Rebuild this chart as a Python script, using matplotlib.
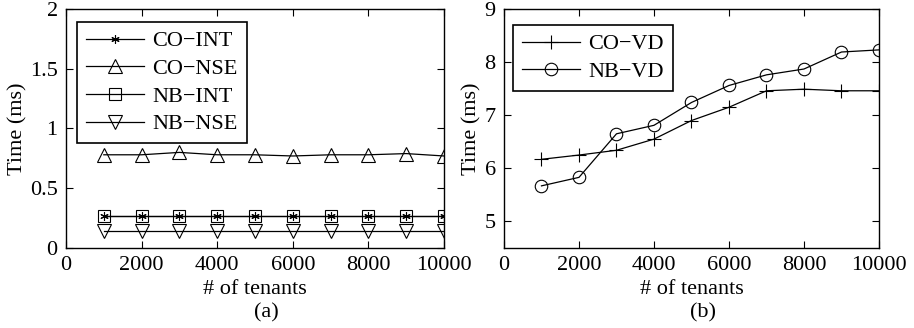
import matplotlib
matplotlib.use("Agg")
import matplotlib.pyplot as plt

plt.rcParams['font.family'] = ['Liberation Serif', 'DejaVu Serif']
plt.rcParams['font.size'] = 16

# data
tenants = [1000, 2000, 3000, 4000, 5000, 6000, 7000, 8000, 9000, 10000]

co_int = [0.27, 0.27, 0.27, 0.27, 0.27, 0.27, 0.27, 0.27, 0.27, 0.27]
co_nse = [0.78, 0.78, 0.80, 0.78, 0.78, 0.77, 0.78, 0.78, 0.79, 0.77]
nb_int = [0.27, 0.27, 0.27, 0.27, 0.27, 0.27, 0.27, 0.27, 0.27, 0.27]
nb_nse = [0.145, 0.145, 0.145, 0.145, 0.145, 0.145, 0.145, 0.145, 0.145, 0.145]

co_vd = [6.17, 6.25, 6.34, 6.55, 6.90, 7.15, 7.46, 7.49, 7.46, 7.46]
nb_vd = [5.67, 5.83, 6.65, 6.81, 7.24, 7.56, 7.76, 7.87, 8.19, 8.23]

x_ticks = [0, 2000, 4000, 6000, 8000, 10000]

fig = plt.figure(figsize=(9.14, 3.28), dpi=100)
ax1 = fig.add_axes([0.0722, 0.2439, 0.4136, 0.7287])
ax2 = fig.add_axes([0.5514, 0.2439, 0.4103, 0.7287])

lw = 0.9
common = dict(color='black', linewidth=lw, markerfacecolor='none',
              markeredgecolor='black', markeredgewidth=0.8)

# panel (a)
ax1.plot(tenants, co_int, marker=(6, 2, 0), markersize=6, label='CO\u2212INT', **common)
ax1.plot(tenants, co_nse, marker='^', markersize=10, label='CO\u2212NSE', **common)
ax1.plot(tenants, nb_int, marker='s', markersize=8, label='NB\u2212INT', **common)
ax1.plot(tenants, nb_nse, marker='v', markersize=10, label='NB\u2212NSE', **common)
ax1.set_ylim(0, 2)
ax1.set_yticks([0, 0.5, 1, 1.5, 2])
ax1.set_yticklabels(['0', '0.5', '1', '1.5', '2'])

# panel (b)
ax2.plot(tenants, co_vd, marker='+', markersize=10, label='CO\u2212VD', **common)
ax2.plot(tenants, nb_vd, marker='o', markersize=9, label='NB\u2212VD', **common)
ax2.set_ylim(4.5, 9)
ax2.set_yticks([5, 6, 7, 8, 9])

for ax, tag, anchor in [(ax1, '(a)', (0.029, 0.946)), (ax2, '(b)', (0.024, 0.933))]:
    ax.set_xlim(0, 10000)
    ax.set_xticks(x_ticks)
    ax.set_xticklabels([str(t) for t in x_ticks])
    ax.tick_params(direction='in', top=True, right=True, length=5, width=0.8, pad=6)
    for s in ax.spines.values():
        s.set_linewidth(1.0)
    ax.set_ylabel('Time (ms)', labelpad=2)
    ax.set_xlabel('# of tenants', labelpad=3)
    ax.text(0.53, -0.272, tag, transform=ax.transAxes, ha='center', va='center')
    leg = ax.legend(loc='upper left', bbox_to_anchor=anchor, fancybox=False,
                    edgecolor='black', framealpha=1, handlelength=2.6,
                    borderpad=0.4, labelspacing=0.32, handletextpad=0.4,
                    borderaxespad=0, fontsize=16)
    leg.get_frame().set_linewidth(1.2)

fig.savefig("out.png", dpi=100)
